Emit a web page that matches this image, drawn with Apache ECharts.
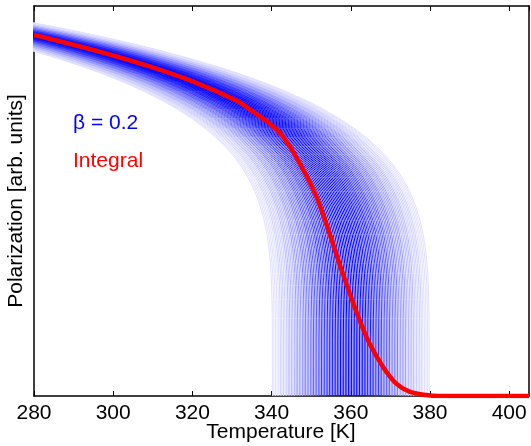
<!DOCTYPE html>
<html>
<head>
<meta charset="utf-8">
<script src="https://cdn.jsdelivr.net/npm/echarts@6/dist/echarts.min.js"></script>
<style>
  html, body { margin: 0; padding: 0; background: #fff; }
  #chart { width: 531px; height: 446px; }
</style>
</head>
<body>
<div id="chart"></div>
<script>
// Temperature ticks (K)
const tempTicks = [280, 300, 320, 340, 360, 380, 400];

// Critical temperatures: bin centres (K) and their relative weight in the distribution
const tcCenters = [341, 343, 345, 347, 349, 351, 353, 355, 357, 359,
                   361, 363, 365, 367, 369, 371, 373, 375, 377, 379];
const tcWeights = [0.12, 0.19, 0.28, 0.39, 0.51, 0.64, 0.77, 0.88, 0.96, 1.0,
                   1.0, 0.96, 0.88, 0.77, 0.64, 0.51, 0.39, 0.28, 0.19, 0.12];
// individual curves inside each 2 K bin (offsets in K)
const binOffsets = [-0.8, -0.4, 0, 0.4, 0.8];

// Single-domain order-parameter profile (beta = 0.2): reduced distance from Tc vs polarization
const profileTau = [0.3, 0.275, 0.25, 0.225, 0.2, 0.18, 0.16, 0.14, 0.125, 0.11, 0.095, 0.08,
                    0.07, 0.06, 0.05, 0.042, 0.035, 0.03, 0.025, 0.021, 0.018, 0.013, 0.009,
                    0.006, 0.004, 0.0025, 0.0015, 0.001, 0.0006, 0.0003, 0.0001, 0.00002, 0];
const profileP   = [0.786, 0.7724, 0.7579, 0.7421, 0.7248, 0.7097, 0.6931, 0.6749, 0.6598, 0.6431, 0.6245, 0.6034,
                    0.5875, 0.5697, 0.5493, 0.5305, 0.5115, 0.4959, 0.4782, 0.4618, 0.4478, 0.4195, 0.3898,
                    0.3594, 0.3314, 0.3017, 0.2724, 0.2512, 0.2268, 0.1974, 0.1585, 0.1149, 0];

// Integrated (distribution-averaged) polarization
const integralT = [280, 290, 300, 309.2, 320.2, 331.1, 334.5, 339.5, 342.9, 347.1, 351.3, 354.6,
                   357.1, 359.7, 362.2, 364.7, 368.1, 371.4, 374.8, 379, 382, 405];
const integralP = [0.7405, 0.7205, 0.6985, 0.676, 0.645, 0.606, 0.588, 0.559, 0.532, 0.477, 0.409, 0.334,
                   0.272, 0.211, 0.156, 0.108, 0.060, 0.026, 0.009, 0.002, 0, 0];

const FONT = '"Liberation Sans", Arial, Helvetica, sans-serif';

const series = [];
tcCenters.forEach(function (c, i) {
  const w = tcWeights[i];
  const g = Math.round(255 * (1 - w));
  const color = 'rgb(' + g + ',' + g + ',255)';
  binOffsets.forEach(function (off) {
    const tc = c + off;
    const data = profileTau.map(function (tau, k) { return [tc * (1 - tau), profileP[k]]; });
    series.push({
      type: 'line', data: data, showSymbol: false, symbol: 'none', silent: true,
      lineStyle: { color: color, width: 1 }, clip: true, z: 2
    });
  });
});
series.push({
  type: 'line',
  data: integralT.map(function (t, k) { return [t, integralP[k]]; }),
  showSymbol: false, symbol: 'none', silent: true, smooth: 0.3,
  lineStyle: { color: '#ff0000', width: 4.5 }, clip: true, z: 5
});

const axisLine = { show: true, onZero: false, lineStyle: { color: '#000', width: 1.5 } };

const chart = echarts.init(document.getElementById('chart'), null, { renderer: 'canvas' });
chart.setOption({
  animation: false,
  backgroundColor: '#fff',
  grid: { left: 34, right: 2, top: 6, bottom: 50, containLabel: false, outerBoundsMode: 'none' },
  xAxis: [
    {
      type: 'value', position: 'bottom', min: 280, max: 405, interval: 20,
      axisLine: axisLine,
      axisTick: { show: true, inside: true, length: 5, lineStyle: { color: '#000', width: 1 } },
      axisLabel: {
        show: true, fontFamily: FONT, fontSize: 21, color: '#000', margin: 7,
        showMaxLabel: false,
        formatter: function (v) { return tempTicks.indexOf(v) >= 0 ? String(v) : ''; }
      },
      splitLine: { show: false }
    },
    {
      type: 'value', position: 'top', min: 280, max: 405, interval: 20,
      axisLine: axisLine,
      axisTick: { show: true, inside: true, length: 5, lineStyle: { color: '#000', width: 1 } },
      axisLabel: { show: false }, splitLine: { show: false }
    }
  ],
  yAxis: [
    {
      type: 'value', position: 'left', min: 0, max: 0.8,
      axisLine: axisLine, axisTick: { show: false }, axisLabel: { show: false },
      splitLine: { show: false },
      name: 'Polarization [arb. units]', nameLocation: 'middle', nameGap: 7,
      nameTextStyle: { fontFamily: FONT, fontSize: 21, color: '#000' }
    },
    {
      type: 'value', position: 'right', min: 0, max: 0.8,
      axisLine: axisLine, axisTick: { show: false }, axisLabel: { show: false },
      splitLine: { show: false }
    }
  ],
  graphic: [
    { type: 'text', x: 281, y: 422, z: 10,
      style: { text: 'Temperature [K]', fill: '#000', font: '21px ' + FONT,
               align: 'center', verticalAlign: 'top' } },
    { type: 'text', left: 73, top: 113, z: 10,
      style: { text: 'β = 0.2', fill: '#0000ff', font: '21px ' + FONT } },
    { type: 'text', left: 73, top: 151, z: 10,
      style: { text: 'Integral', fill: '#ff0000', font: '21px ' + FONT } }
  ],
  series: series
});
</script>
</body>
</html>
